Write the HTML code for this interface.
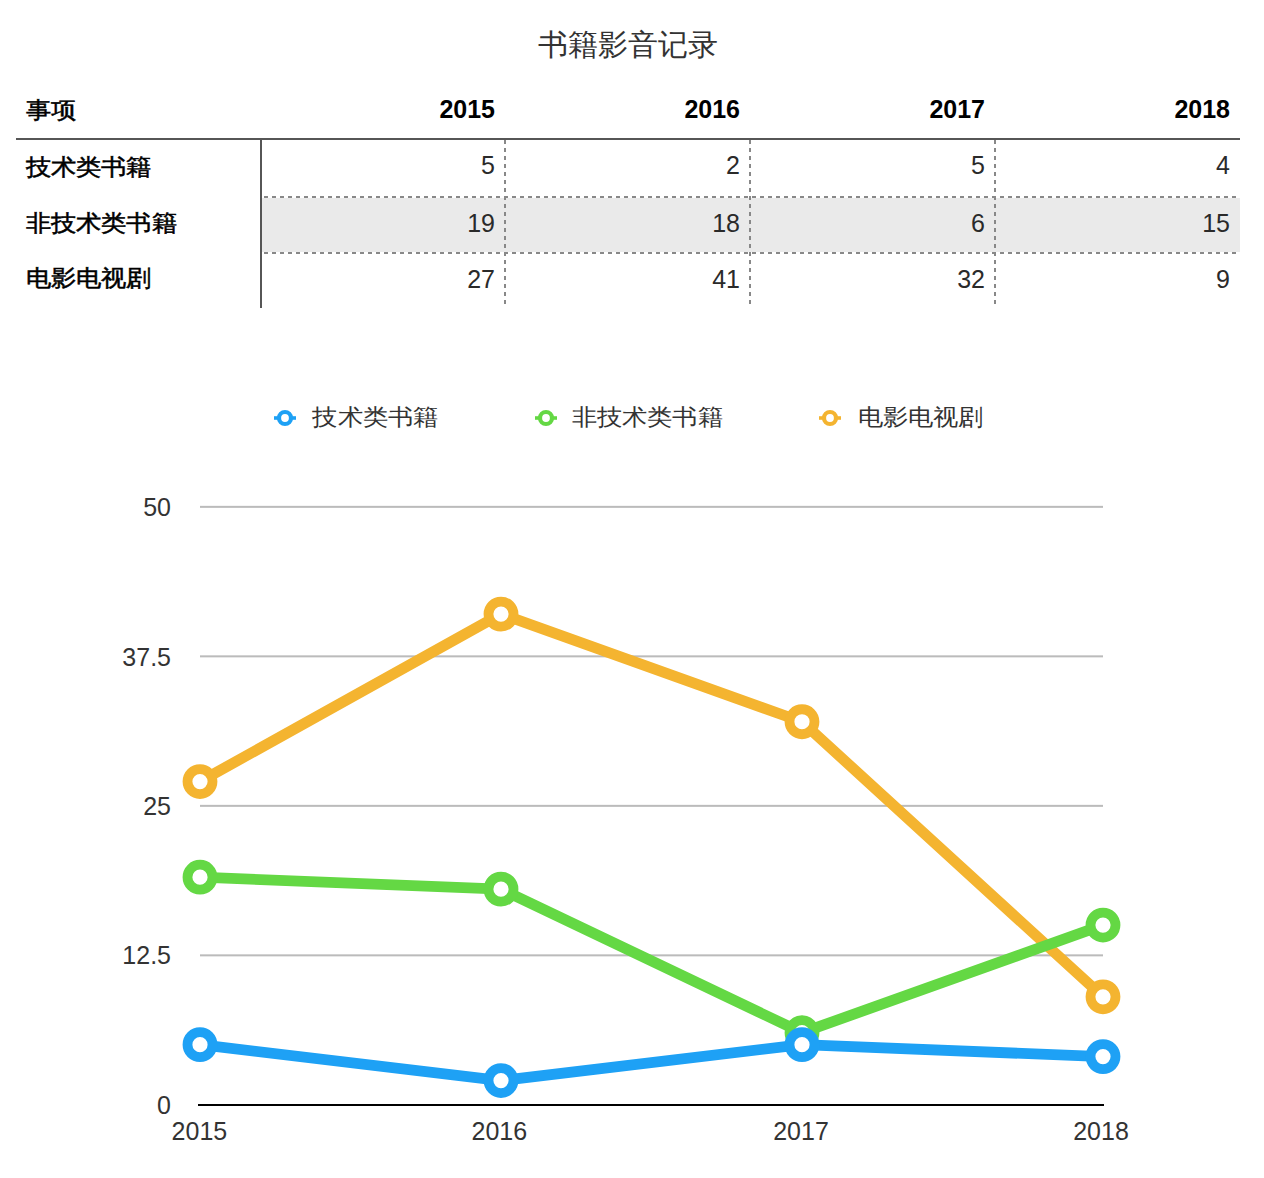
<!DOCTYPE html>
<html><head><meta charset="utf-8"><style>
html,body{margin:0;padding:0;background:#fff;width:1264px;height:1178px;overflow:hidden}
svg{display:block;font-family:"Liberation Sans",sans-serif}
</style></head><body>
<svg width="1264" height="1178" viewBox="0 0 1264 1178">
<text x="628" y="55" font-size="30" text-anchor="middle" fill="#333">书籍影音记录</text>
<rect x="262" y="198" width="978" height="54" fill="#eaeaea"/>
<rect x="16" y="138" width="1224" height="2" fill="#565656"/>
<rect x="260" y="140" width="2" height="168" fill="#565656"/>
<g stroke="#888" stroke-width="2" stroke-dasharray="4 4">
<line x1="264" y1="197" x2="1240" y2="197"/>
<line x1="264" y1="253" x2="1240" y2="253"/>
<line x1="505" y1="140" x2="505" y2="304"/>
<line x1="750" y1="140" x2="750" y2="304"/>
<line x1="995" y1="140" x2="995" y2="304"/>
</g>
<g font-size="25" fill="#000" stroke="#000" stroke-width="0.55">
<text x="26" y="0" transform="translate(0 118.3) scale(1 0.91)" >事项</text>
<text x="26" y="0" transform="translate(0 174.8) scale(1 0.91)" >技术类书籍</text>
<text x="26" y="0" transform="translate(0 231) scale(1 0.91)" >非技术类书籍</text>
<text x="26" y="0" transform="translate(0 285.9) scale(1 0.91)" >电影电视剧</text>
</g>
<g font-size="25" fill="#000" font-weight="bold" text-anchor="end">
<text x="495" y="118">2015</text>
<text x="740" y="118">2016</text>
<text x="985" y="118">2017</text>
<text x="1230" y="118">2018</text>
</g>
<g font-size="25" fill="#2a2a2a" text-anchor="end">
<text x="495" y="174">5</text><text x="740" y="174">2</text><text x="985" y="174">5</text><text x="1230" y="174">4</text>
<text x="495" y="232">19</text><text x="740" y="232">18</text><text x="985" y="232">6</text><text x="1230" y="232">15</text>
<text x="495" y="288">27</text><text x="740" y="288">41</text><text x="985" y="288">32</text><text x="1230" y="288">9</text>
</g>
<g stroke-width="4.2" fill="#fff">
<line x1="274" y1="418" x2="296" y2="418" stroke="#1ea1f5" stroke-width="3.6"/><circle cx="285" cy="418" r="6" stroke="#1ea1f5"/>
<line x1="535" y1="418" x2="557" y2="418" stroke="#64d844" stroke-width="3.6"/><circle cx="546" cy="418" r="6" stroke="#64d844"/>
<line x1="819" y1="418" x2="841" y2="418" stroke="#f4b430" stroke-width="3.6"/><circle cx="830" cy="418" r="6" stroke="#f4b430"/>
</g>
<g font-size="25" fill="#333">
<text x="312.5" y="0" transform="translate(0 424.8) scale(1 0.91)" >技术类书籍</text>
<text x="572" y="0" transform="translate(0 424.8) scale(1 0.91)" >非技术类书籍</text>
<text x="858" y="0" transform="translate(0 424.8) scale(1 0.91)" >电影电视剧</text>
</g>
<rect x="200" y="954.35" width="903" height="2" fill="#bbb"/>
<rect x="200" y="804.85" width="903" height="2" fill="#bbb"/>
<rect x="200" y="655.35" width="903" height="2" fill="#bbb"/>
<rect x="200" y="505.85" width="903" height="2" fill="#bbb"/>

<rect x="198" y="1104" width="906" height="2" fill="#000"/>
<g font-size="25" fill="#333" text-anchor="end">
<text x="171" y="516">50</text>
<text x="171" y="666">37.5</text>
<text x="171" y="815">25</text>
<text x="171" y="964">12.5</text>
<text x="171" y="1114">0</text>
</g>
<g font-size="25" fill="#333" text-anchor="middle">
<text x="199.4" y="1140">2015</text>
<text x="499.3" y="1140">2016</text>
<text x="801" y="1140">2017</text>
<text x="1101" y="1140">2018</text>
</g>
<polyline points="200,781.53 501,614.09 802,721.73 1103,996.81" fill="none" stroke="#f4b430" stroke-width="10.8" stroke-linejoin="round"/>
<circle cx="200" cy="781.53" r="12.5" fill="#fff" stroke="#f4b430" stroke-width="9.8"/>
<circle cx="501" cy="614.09" r="12.5" fill="#fff" stroke="#f4b430" stroke-width="9.8"/>
<circle cx="802" cy="721.73" r="12.5" fill="#fff" stroke="#f4b430" stroke-width="9.8"/>
<circle cx="1103" cy="996.81" r="12.5" fill="#fff" stroke="#f4b430" stroke-width="9.8"/>
<polyline points="200,877.21 501,889.17 802,1032.69 1103,925.05" fill="none" stroke="#64d844" stroke-width="10.8" stroke-linejoin="round"/>
<circle cx="200" cy="877.21" r="12.5" fill="#fff" stroke="#64d844" stroke-width="9.8"/>
<circle cx="501" cy="889.17" r="12.5" fill="#fff" stroke="#64d844" stroke-width="9.8"/>
<circle cx="802" cy="1032.69" r="12.5" fill="#fff" stroke="#64d844" stroke-width="9.8"/>
<circle cx="1103" cy="925.05" r="12.5" fill="#fff" stroke="#64d844" stroke-width="9.8"/>
<polyline points="200,1044.65 501,1080.53 802,1044.65 1103,1056.61" fill="none" stroke="#1ea1f5" stroke-width="10.8" stroke-linejoin="round"/>
<circle cx="200" cy="1044.65" r="12.5" fill="#fff" stroke="#1ea1f5" stroke-width="9.8"/>
<circle cx="501" cy="1080.53" r="12.5" fill="#fff" stroke="#1ea1f5" stroke-width="9.8"/>
<circle cx="802" cy="1044.65" r="12.5" fill="#fff" stroke="#1ea1f5" stroke-width="9.8"/>
<circle cx="1103" cy="1056.61" r="12.5" fill="#fff" stroke="#1ea1f5" stroke-width="9.8"/>
</svg>
</body></html>
